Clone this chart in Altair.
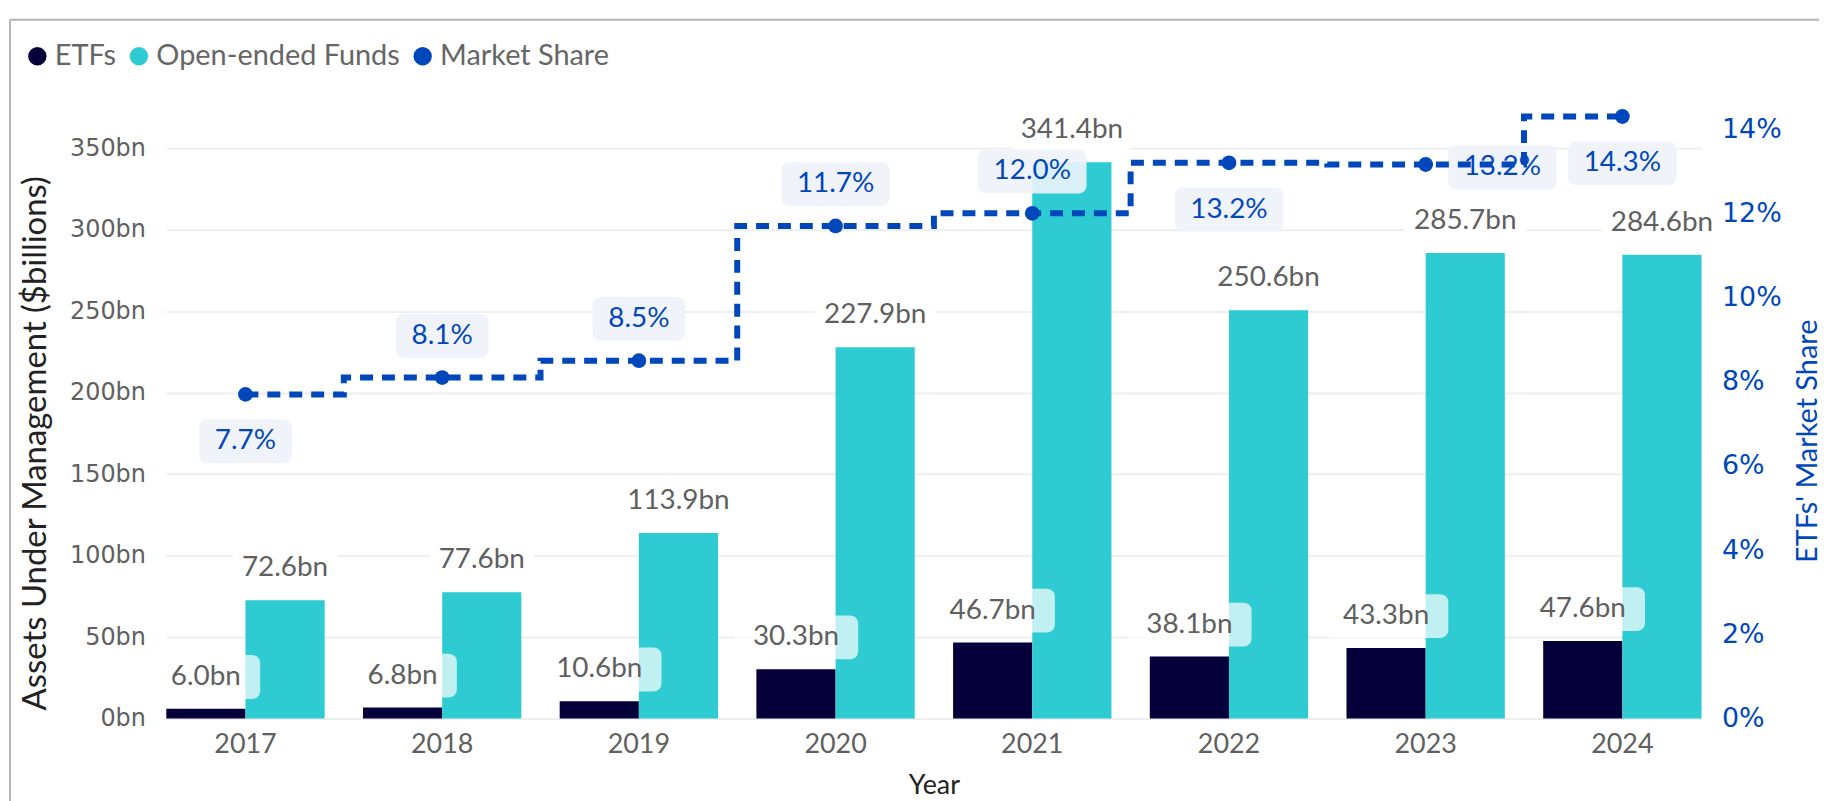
import altair as alt
import pandas as pd

# ---------------- data ----------------
YEARS = ["2017", "2018", "2019", "2020", "2021", "2022", "2023", "2024"]
ETF_AUM = [6.0, 6.8, 10.6, 30.3, 46.7, 38.1, 43.3, 47.6]
OEF_AUM = [72.6, 77.6, 113.9, 227.9, 341.4, 250.6, 285.7, 284.6]
MARKET_SHARE = [7.7, 8.1, 8.5, 11.7, 12.0, 13.2, 13.16, 14.3]
SERIES = ["ETFs", "Open-ended Funds", "Market Share"]
LEFT_TICKS = [0, 50, 100, 150, 200, 250, 300, 350]
RIGHT_TICKS = [0, 2, 4, 6, 8, 10, 12, 14]

# ---------------- style ----------------
COLORS = ["#05003a", "#2ecbd3", "#0047bb"]
BLUE = "#0047bb"
GRAY_TEXT = "#606060"
TEXT_FONT = "Lato"
TICK_FONT = "DejaVu Sans"
W, H = 1542, 609
LABELS_BELOW = ["2017", "2022", "2024"]
LABELS_RIGHT = ["2023"]

bars_df = pd.DataFrame({
    "year": YEARS * 2,
    "series": [SERIES[0]] * len(YEARS) + [SERIES[1]] * len(YEARS),
    "value": ETF_AUM + OEF_AUM,
})
share_df = pd.DataFrame({"year": YEARS, "share": MARKET_SHARE, "series": SERIES[2]})

x_enc = alt.X(
    "year:N", sort=YEARS,
    scale=alt.Scale(paddingInner=0.195, paddingOuter=0),
    axis=alt.Axis(title="Year", labelAngle=0, labelFont=TEXT_FONT, labelFontSize=27,
                  labelColor=GRAY_TEXT, labelPadding=13, titleFont=TEXT_FONT,
                  titleFontSize=27, titleFontWeight="normal", titleColor="#222222",
                  titlePadding=15, grid=False, domain=False, ticks=False),
)
xoff = alt.XOffset("series:N", scale=alt.Scale(domain=SERIES[:2], paddingInner=0, paddingOuter=0))
yL = alt.Y(
    "value:Q", scale=alt.Scale(domain=[0, 372], nice=False),
    axis=alt.Axis(values=LEFT_TICKS, labelExpr="datum.value + 'bn'", title="Assets Under Management ($billions)",
                  labelFont=TICK_FONT, labelFontSize=24, labelColor=GRAY_TEXT, labelPadding=21,
                  titleFont=TEXT_FONT, titleFontSize=33, titleFontWeight="normal", titleColor="#222222",
                  titlePadding=17, titleY=332, grid=True, gridColor="#eeeeee", gridWidth=2, domain=False,
                  ticks=False, tickSize=0),
)
yR = alt.Y(
    "share:Q", scale=alt.Scale(domain=[0, 14.4], nice=False),
    axis=alt.Axis(orient="right", values=RIGHT_TICKS, labelExpr="datum.value + '%'", title="ETFs' Market Share",
                  labelFont=TICK_FONT, labelFontSize=27, labelColor=BLUE, labelPadding=20,
                  titleFont=TEXT_FONT, titleFontSize=29, titleFontWeight="normal", titleColor=BLUE,
                  titleAngle=270, titleBaseline="top", titlePadding=12, titleY=330,
                  grid=False, domain=False, ticks=False, tickSize=0, zindex=2),
)
color_enc = alt.Color(
    "series:N", scale=alt.Scale(domain=SERIES, range=COLORS),
    legend=alt.Legend(orient="none", legendX=-144, legendY=-71, direction="horizontal", title=None,
                      symbolType="circle", symbolSize=340, symbolStrokeWidth=0, labelFont=TEXT_FONT,
                      labelFontSize=29, labelColor="#666666", columnPadding=8, labelOffset=3, padding=0,
                      labelLimit=0),
)

base_left = alt.Chart(bars_df)
bars = base_left.mark_bar().encode(x=x_enc, xOffset=xoff, y=yL, color=color_enc)


def bar_label_layers(series_name, fill, fill_opacity, pad):
    src = base_left.transform_filter(alt.datum.series == series_name).transform_calculate(
        label="format(datum.value, '.1f') + 'bn'")
    boxes = []
    for n_chars, w in [(5, 73), (6, 89), (7, 105)]:
        boxes.append(
            src.transform_filter(f"length(datum.label) == {n_chars}")
            .mark_rect(width=w + pad, height=44, cornerRadius=8, fill=fill, fillOpacity=fill_opacity, yOffset=-32)
            .encode(x=x_enc, xOffset=xoff, y=yL)
        )
    text = src.mark_text(font=TEXT_FONT, fontSize=28, color=GRAY_TEXT, baseline="middle", dy=-32).encode(
        x=x_enc, xOffset=xoff, y=yL, text="label:N")
    return boxes, text


etf_boxes, etf_text = bar_label_layers(SERIES[0], "white", 0.7, 36)
oef_boxes, oef_text = bar_label_layers(SERIES[1], "white", 1.0, 16)
left = alt.layer(bars, *etf_boxes, *oef_boxes, etf_text, oef_text)

share_src = alt.Chart(share_df).transform_calculate(label="format(datum.share, '.1f') + '%'")
above = [y for y in YEARS if y not in LABELS_BELOW + LABELS_RIGHT]
placements = [(above, 0, -42), (LABELS_BELOW, 0, 47), (LABELS_RIGHT, 77, 3)]

ms_boxes, ms_texts = [], []
for yrs, dx, dy in placements:
    src = share_src.transform_filter(alt.FieldOneOfPredicate(field="year", oneOf=yrs))
    for n_chars, w in [(4, 93), (5, 109)]:
        ms_boxes.append(
            src.transform_filter(f"length(datum.label) == {n_chars}")
            .mark_rect(width=w, height=44, cornerRadius=8, fill="#eef3fa", fillOpacity=0.9,
                       xOffset=dx, yOffset=dy)
            .encode(x=x_enc, y=yR)
        )
    ms_texts.append(
        src.mark_text(font=TEXT_FONT, fontSize=28, color=BLUE, baseline="middle", dx=dx, dy=dy)
        .encode(x=x_enc, y=yR, text="label:N")
    )

line = share_src.mark_line(interpolate="step", strokeDash=[13, 9], strokeWidth=6, color=BLUE).encode(x=x_enc, y=yR)
points = share_src.mark_circle(size=220, opacity=1).encode(x=x_enc, y=yR, color=color_enc)
right = alt.layer(*ms_boxes, line, points, *ms_texts)

frame_src = alt.Chart(pd.DataFrame({"k": [0]}))
frame_left = frame_src.mark_rule(color="#b5b5b5", strokeWidth=2).encode(
    x=alt.value(-157), y=alt.value(-93), y2=alt.value(H + 90))
frame_top = frame_src.mark_rule(color="#b5b5b5", strokeWidth=2).encode(
    x=alt.value(-157), x2=alt.value(1660), y=alt.value(-93))

chart = (
    alt.layer(left, right, frame_left, frame_top)
    .resolve_scale(y="independent")
    .properties(width=W, height=H, autosize=alt.AutoSizeParams(type="none"),
                padding={"left": 159, "top": 103, "right": 120, "bottom": 81})
    .configure_view(stroke=None)
)

chart.save("out.html", embed_options={"renderer": "svg", "actions": False})
